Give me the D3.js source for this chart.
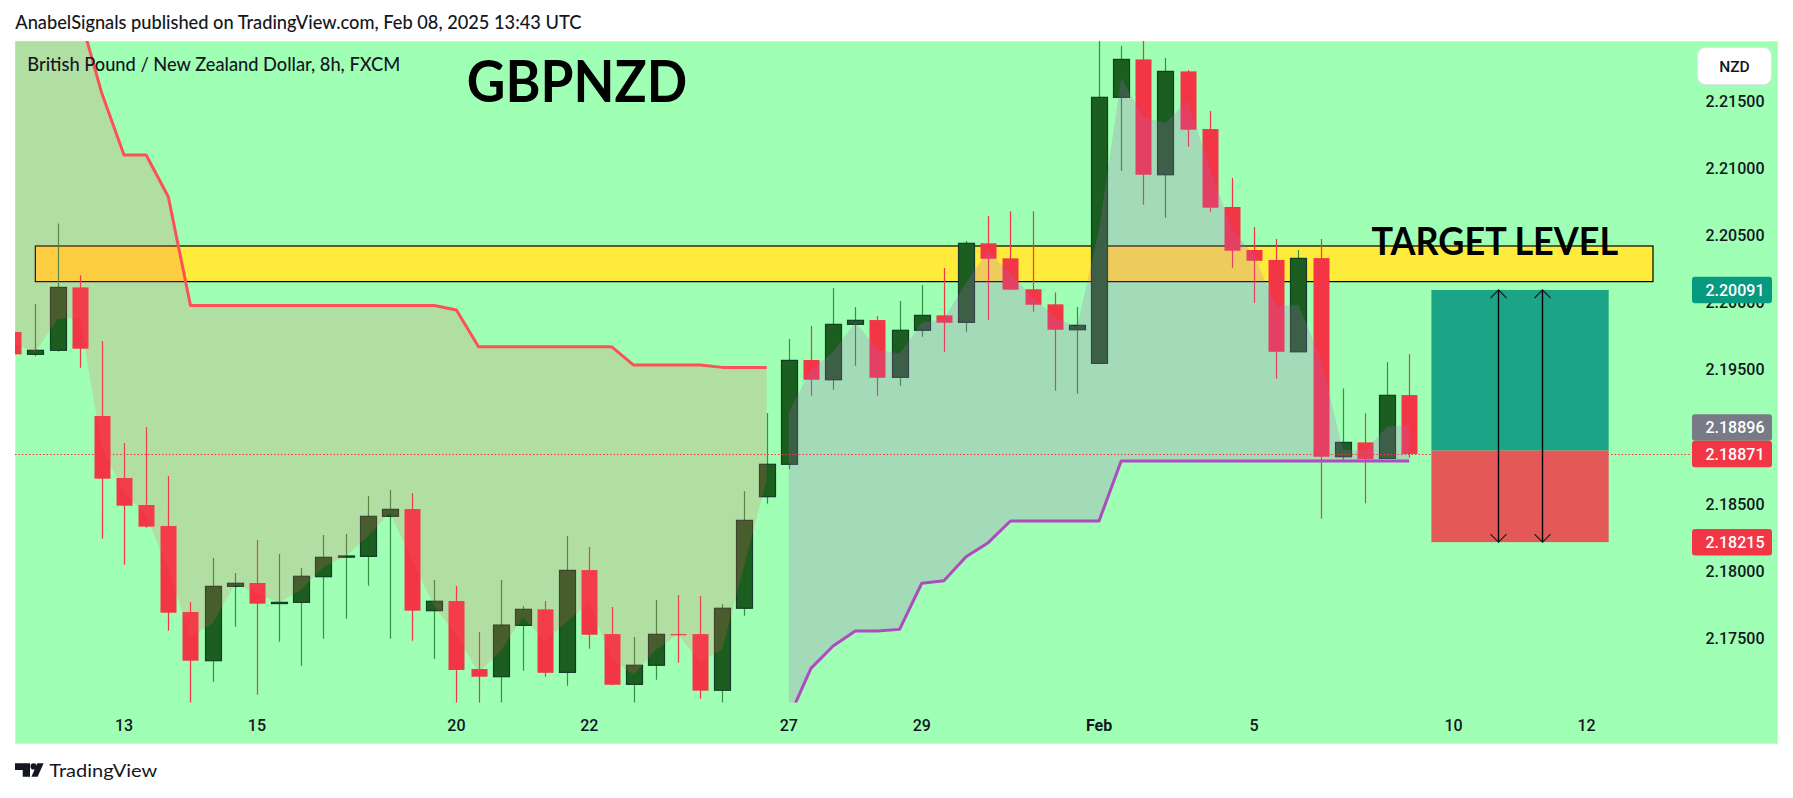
<!DOCTYPE html>
<html><head><meta charset="utf-8">
<script src="https://cdn.jsdelivr.net/npm/d3@7/dist/d3.min.js"></script>
<style>html,body{margin:0;padding:0;background:#fff;}svg{display:block;}</style>
</head><body>
<svg id="chart" width="1793" height="798"></svg>
<script>
// ---------------- DATA ----------------
const opens = [2.19778,2.19612,2.19642,2.20110,2.19153,2.18692,2.18491,2.18335,2.17695,2.17333,
2.17886,2.17911,2.17760,2.17767,2.17958,2.18106,2.18109,2.18407,2.18461,2.17705,
2.17777,2.17271,2.17214,2.17596,2.17715,2.17246,2.18007,2.17531,2.17157,2.17299,
2.17531,2.17531,2.17113,2.17723,2.18553,2.18794,2.19570,2.19423,2.19835,2.19867,
2.19441,2.19791,2.19902,2.19850,2.20438,2.20326,2.20096,2.19984,2.19795,2.19545,
2.21524,2.21806,2.20948,2.21717,2.21288,2.20708,2.20388,2.20314,2.19631,2.20328,
2.18850,2.18957,2.18838,2.19309];
const highs = [2.19793,2.19986,2.20586,2.20200,2.19711,2.18952,2.19071,2.18707,2.17769,2.18097,
2.17985,2.18231,2.18126,2.18022,2.18268,2.18275,2.18558,2.18603,2.18580,2.17933,
2.17888,2.17546,2.17933,2.17740,2.17777,2.18260,2.18179,2.17732,2.17509,2.17784,
2.17822,2.17814,2.17755,2.18595,2.19175,2.19726,2.19823,2.20105,2.19964,2.19897,
2.20009,2.20128,2.20254,2.20455,2.20641,2.20676,2.20676,2.20073,2.19964,2.21980,
2.21905,2.21965,2.21816,2.21727,2.21422,2.20924,2.20559,2.20470,2.20388,2.20470,
2.19359,2.19173,2.19555,2.19614];
const lows = [2.19599,2.19599,2.19633,2.19512,2.18240,2.18047,2.18322,2.17556,2.16990,2.17177,
2.17586,2.17080,2.17474,2.17296,2.17496,2.17645,2.17891,2.17496,2.17482,2.17345,
2.16990,2.16980,2.16990,2.17258,2.17214,2.17147,2.17422,2.17150,2.16990,2.17191,
2.17318,2.17050,2.16990,2.17668,2.18501,2.18757,2.19304,2.19349,2.19527,2.19304,
2.19378,2.19743,2.19631,2.19780,2.19869,2.20090,2.19929,2.19341,2.19319,2.19545,
2.20978,2.20725,2.20628,2.21156,2.20673,2.20256,2.19996,2.19431,2.19631,2.18389,
2.18826,2.18504,2.18838,2.18843];
const closes = [2.19612,2.19642,2.20110,2.19654,2.18687,2.18486,2.18330,2.17690,2.17333,2.17886,
2.17909,2.17757,2.17767,2.17961,2.18102,2.18112,2.18407,2.18459,2.17705,2.17775,
2.17264,2.17214,2.17598,2.17715,2.17243,2.18005,2.17526,2.17154,2.17299,2.17529,
2.17529,2.17110,2.17723,2.18377,2.18794,2.19567,2.19423,2.19835,2.19865,2.19438,
2.19791,2.19902,2.19847,2.20438,2.20323,2.20093,2.19981,2.19795,2.19828,2.21524,
2.21806,2.20948,2.21717,2.21283,2.20703,2.20383,2.20308,2.19631,2.20326,2.18850,
2.18957,2.18833,2.19307,2.18871];
// SuperTrend (down = red line, up = purple line)
const superDown = [2.22400,2.22380,2.22360,2.22136,2.21554,2.21095,2.21095,2.20784,
2.19975,2.19975,2.19975,2.19975,2.19975,2.19975,2.19975,2.19975,2.19975,2.19975,2.19975,2.19975,
2.19942,2.19669,2.19669,2.19669,2.19669,2.19669,2.19669,2.19669,
2.19532,2.19532,2.19532,2.19532,2.19515,2.19515,2.19515,
null,null,null,null,null,null,null,null,null,null,null,null,null,null,null,null,null,null,null,null,
null,null,null,null,null,null,null,null,null];
const superUp = [null,null,null,null,null,null,null,null,null,null,null,null,null,null,null,null,null,null,
null,null,null,null,null,null,null,null,null,null,null,null,null,null,null,null,null,
2.16907,2.17276,2.17442,2.17554,2.17554,2.17566,2.17909,2.17928,2.18106,2.18211,
2.18372,2.18372,2.18372,2.18372,2.18372,
2.18818,2.18818,2.18818,2.18818,2.18818,2.18818,2.18818,2.18818,2.18818,2.18818,2.18818,2.18818,2.18818,2.18818];
const priceTicks = [2.175,2.180,2.185,2.190,2.195,2.200,2.205,2.210,2.215];
const timeTickBars = [5,11,20,26,35,41,49,56,65,71];
const timeTickLabels = ["13","15","20","22","27","29","Feb","5","10","12"];
const timeTickBold = [false,false,false,false,false,false,true,false,false,false];
const targetZonePrices = [2.20153, 2.20418];
const targetZoneBars = [1, 74];
const positionBars = [64, 72];
const positionEntry = 2.18896, positionTarget = 2.20091, positionStop = 2.18215;
const arrowBars = [67, 69];
const lastPrice = 2.18871;
const targetTextBar = 61.3, targetTextPrice = 2.20348;
const titleText = "GBPNZD", targetText = "TARGET LEVEL";
const headerText = "AnabelSignals published on TradingView.com, Feb 08, 2025 13:43 UTC";
const legendText = "British Pound / New Zealand Dollar, 8h, FXCM";
const currency = "NZD";

// ---------------- LAYOUT ----------------
const pane = {x:15, y:41, w:1763, h:703};
const plot = {l:15, r:1690, t:41, b:702.5};
const BG = "#9fffb4";
const UP_BODY = "#1b5e20", UP_BORDER = "#123d27", UP_WICK = "#35913c";
const DN = "#f23645";

const svg = d3.select("#chart");
const x = d3.scaleLinear().domain([0.0812, 75.67]).range([plot.l, plot.r]);
const y = d3.scaleLinear().domain([2.17022, 2.21943]).range([plot.b, plot.t]);
const step = x(1) - x(0);
const bodyW = Math.round(step * 0.72);

const defs = svg.append("defs");
defs.append("clipPath").attr("id","plotclip").append("rect")
  .attr("x",plot.l).attr("y",plot.t).attr("width",plot.r-plot.l).attr("height",plot.b-plot.t);

svg.append("rect").attr("x",pane.x+0.5).attr("y",pane.y+0.5).attr("width",pane.w-1).attr("height",pane.h-1)
  .attr("fill",BG).attr("stroke","#e3e6ee").attr("stroke-width",1);

const g = svg.append("g").attr("clip-path","url(#plotclip)");

// target zone (yellow)
g.append("rect")
  .attr("x", x(targetZoneBars[0])).attr("width", x(targetZoneBars[1]) - x(targetZoneBars[0]))
  .attr("y", y(targetZonePrices[1])).attr("height", y(targetZonePrices[0]) - y(targetZonePrices[1]))
  .attr("fill","#ffeb3b").attr("stroke","#000").attr("stroke-width",1.2);

// candles
const idx = d3.range(opens.length);
const cg = g.append("g");
cg.selectAll("line.wick").data(idx).join("line")
  .attr("x1", i => Math.round(x(i)) + 0.5).attr("x2", i => Math.round(x(i)) + 0.5)
  .attr("y1", i => y(highs[i])).attr("y2", i => y(lows[i]))
  .attr("stroke", i => closes[i] >= opens[i] ? UP_WICK : DN).attr("stroke-width", 1.2);
cg.selectAll("rect.body").data(idx).join("rect")
  .attr("x", i => Math.round(x(i)) + 0.5 - bodyW/2)
  .attr("width", bodyW)
  .attr("y", i => y(Math.max(opens[i], closes[i])))
  .attr("height", i => Math.max(1.2, Math.abs(y(opens[i]) - y(closes[i]))))
  .attr("fill", i => closes[i] >= opens[i] ? UP_BODY : DN)
  .attr("stroke", i => closes[i] >= opens[i] ? UP_BORDER : "none")
  .attr("stroke-width", 1.2);

// supertrend fills (between line and body middle)
const bodyMid = i => (opens[i] + closes[i]) / 2;
const areaDown = d3.area().defined(i => superDown[i] != null)
  .x(i => x(i)).y0(i => y(superDown[i])).y1(i => y(bodyMid(i)));
const areaUp = d3.area().defined(i => superUp[i] != null)
  .x(i => x(i)).y0(i => y(superUp[i])).y1(i => y(bodyMid(i)));
g.append("path").attr("d", areaDown(idx)).attr("fill","rgba(250,88,95,0.2)");
g.append("path").attr("d", areaUp(idx)).attr("fill","rgba(177,100,202,0.23)");

// supertrend lines
const lineDown = d3.line().defined(i => superDown[i] != null).x(i => x(i)).y(i => y(superDown[i]));
const lineUp = d3.line().defined(i => superUp[i] != null).x(i => x(i)).y(i => y(superUp[i]));
g.append("path").attr("d", lineDown(idx)).attr("fill","none").attr("stroke","#fc5257").attr("stroke-width",3).attr("stroke-linejoin","round");
g.append("path").attr("d", lineUp(idx)).attr("fill","none").attr("stroke","#ae4bbf").attr("stroke-width",3).attr("stroke-linejoin","round");

// last price dotted line
g.append("line").attr("x1",plot.l).attr("x2",plot.r)
  .attr("y1", Math.round(y(lastPrice))+0.5).attr("y2", Math.round(y(lastPrice))+0.5)
  .attr("stroke", DN).attr("stroke-width",1).attr("stroke-dasharray","1.5,2");

// position tool
const px0 = x(positionBars[0]), px1 = x(positionBars[1]);
g.append("rect").attr("x",px0).attr("width",px1-px0)
  .attr("y",y(positionTarget)).attr("height",y(positionEntry)-y(positionTarget)).attr("fill","#1ba586");
g.append("rect").attr("x",px0).attr("width",px1-px0)
  .attr("y",y(positionEntry)).attr("height",y(positionStop)-y(positionEntry)).attr("fill","#e45858");

// double arrows
arrowBars.forEach(b => {
  const ax = Math.round(x(b)) + 0.5, ya = y(positionTarget), yb = y(positionStop);
  g.append("line").attr("x1",ax).attr("x2",ax).attr("y1",ya).attr("y2",yb).attr("stroke","#000").attr("stroke-width",1.4);
  g.append("path").attr("d",`M${ax-8},${ya+8}L${ax},${ya}L${ax+8},${ya+8}`).attr("fill","none").attr("stroke","#222").attr("stroke-width",1.3);
  g.append("path").attr("d",`M${ax-8},${yb-8}L${ax},${yb}L${ax+8},${yb-8}`).attr("fill","none").attr("stroke","#222").attr("stroke-width",1.3);
});

// ---------------- TEXT ----------------
const TXT = "#131722";
const AXF = "Roboto, 'Liberation Sans', Arial, sans-serif";
svg.append("text").attr("x",15.3).attr("y",29.3).text(headerText)
  .attr("font-family","Lato, 'Liberation Sans', sans-serif").attr("font-size",19).attr("font-weight",500).attr("fill",TXT)
  .attr("textLength",566).attr("lengthAdjust","spacingAndGlyphs");
svg.append("text").attr("x",27.3).attr("y",70.7).text(legendText)
  .attr("font-family","Lato, 'Liberation Sans', sans-serif").attr("font-size",19).attr("font-weight",500).attr("fill",TXT)
  .attr("textLength",373).attr("lengthAdjust","spacingAndGlyphs");
svg.append("text").attr("x",466.8).attr("y",102.3).text(titleText)
  .attr("font-family","Lato, 'Liberation Sans', sans-serif").attr("font-weight",700).attr("font-size",57).attr("fill","#000")
  .attr("textLength",220.4).attr("lengthAdjust","spacingAndGlyphs");
svg.append("text").attr("x",x(targetTextBar)).attr("y",y(targetTextPrice)).text(targetText)
  .attr("font-family","Lato, 'Liberation Sans', sans-serif").attr("font-weight",700).attr("font-size",38.5).attr("fill","#000")
  .attr("textLength",246.6).attr("lengthAdjust","spacingAndGlyphs");

// price axis tick labels (TradingView hides labels covered by price boxes)
const boxH = 26.5;
const redC = y(lastPrice);
const greyC = Math.min(y(positionEntry), redC - boxH);
const stopC = y(positionStop);
const tgtC = y(positionTarget);
const boxCenters = [greyC, redC, stopC];
svg.append("g").selectAll("text").data(priceTicks.filter(p => boxCenters.every(c => Math.abs(y(p) - c) > 10)))
  .join("text").attr("x",1735).attr("y",p => y(p) + 6).attr("text-anchor","middle")
  .attr("font-family",AXF).attr("font-size",16).attr("font-weight",500).attr("fill",TXT).text(p => p.toFixed(5));

// price boxes
const boxes = [
  {c:tgtC, v:positionTarget, col:"#089981"},
  {c:greyC, v:positionEntry, col:"#787b86"},
  {c:redC, v:lastPrice, col:"#f23645"},
  {c:stopC, v:positionStop, col:"#f23645"}
];
const bg = svg.append("g");
bg.selectAll("rect").data(boxes).join("rect")
  .attr("x",1692).attr("width",80).attr("y",d => d.c - boxH/2).attr("height",boxH).attr("rx",3)
  .attr("fill",d => d.col);
bg.selectAll("text").data(boxes).join("text")
  .attr("x",1735).attr("y",d => d.c + 6).attr("text-anchor","middle")
  .attr("font-family",AXF).attr("font-size",16).attr("font-weight",500).attr("fill","#fff").text(d => d.v.toFixed(5));

// currency box
svg.append("rect").attr("x",1697.5).attr("y",47.5).attr("width",74).attr("height",37).attr("rx",8)
  .attr("fill","#fff").attr("stroke","#e0e3eb");
svg.append("text").attr("x",1734.5).attr("y",71.5).attr("text-anchor","middle")
  .attr("font-family",AXF).attr("font-size",15.5).attr("font-weight",500).attr("fill",TXT).text(currency);

// time axis
svg.append("g").selectAll("text").data(timeTickBars).join("text")
  .attr("x", b => x(b)).attr("y", 731).attr("text-anchor","middle")
  .attr("font-family",AXF).attr("font-size",16).attr("fill",TXT)
  .attr("font-weight",(b,i) => timeTickBold[i] ? 700 : 500)
  .text((b,i) => timeTickLabels[i]);

// footer logo
const lg = svg.append("g").attr("fill","#131722");
lg.append("path").attr("d","M15,763.3H30V776.7H22.7V770H15Z");
lg.append("circle").attr("cx",33.6).attr("cy",766.4).attr("r",3.1);
lg.append("path").attr("d","M37.4,763.3H43.6L37.6,776.7H31.4Z");
svg.append("text").attr("x",49.3).attr("y",776.7).text("TradingView")
  .attr("font-family","Lato, 'Liberation Sans', sans-serif").attr("font-size",18).attr("fill","#131722")
  .attr("textLength",108).attr("lengthAdjust","spacingAndGlyphs");
</script>
</body></html>
